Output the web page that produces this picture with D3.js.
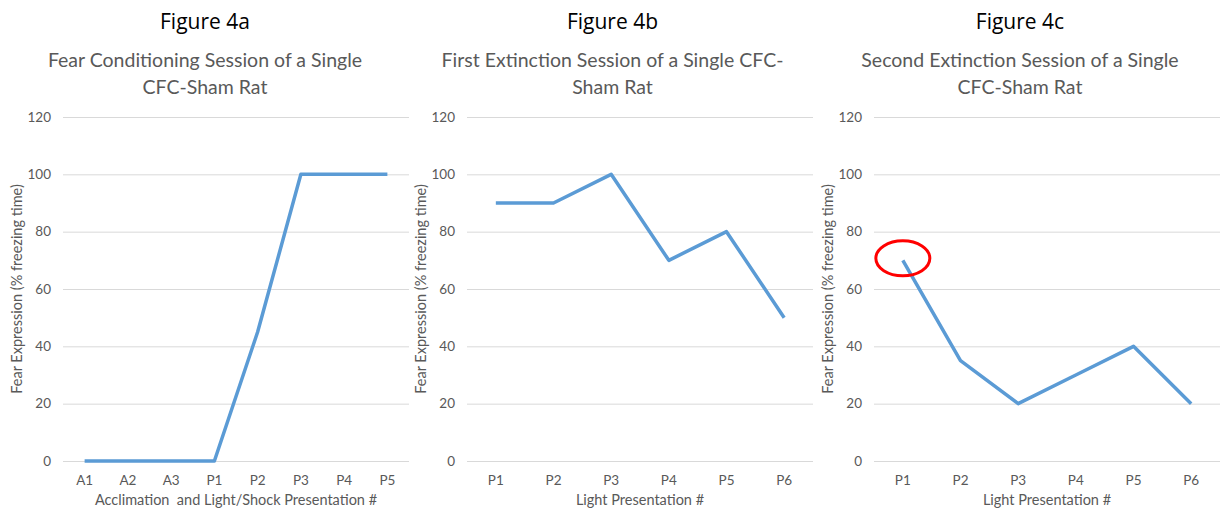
<!DOCTYPE html>
<html>
<head>
<meta charset="utf-8">
<script src="https://cdn.jsdelivr.net/npm/d3@7"></script>
<style>
  body { margin: 0; background: #fff; }
  text { font-family: Lato, "Open Sans", sans-serif; white-space: pre; }
</style>
</head>
<body>
<div id="chart"></div>
<script>
// data
const catsA = ["A1", "A2", "A3", "P1", "P2", "P3", "P4", "P5"];
const valsA = [0, 0, 0, 0, 45, 100, 100, 100];

const catsB = ["P1", "P2", "P3", "P4", "P5", "P6"];
const valsB = [90, 90, 100, 70, 80, 50];

const catsC = ["P1", "P2", "P3", "P4", "P5", "P6"];
const valsC = [70, 35, 20, 30, 40, 20];

const yTicks = [0, 20, 40, 60, 80, 100, 120];

const panels = [
    { fig: "Figure 4a", title: ["Fear Conditioning Session of a Single", "CFC-Sham Rat"],
      xTitle: "Acclimation  and Light/Shock Presentation #", cats: catsA, vals: valsA,
      left: 0, right: 410, plotL: 63, plotR: 409 },
    { fig: "Figure 4b", title: ["First Extinction Session of a Single CFC-", "Sham Rat"],
      xTitle: "Light Presentation #", cats: catsB, vals: valsB,
      left: 410, right: 815, plotL: 467, plotR: 813 },
    { fig: "Figure 4c", title: ["Second Extinction Session of a Single", "CFC-Sham Rat"],
      xTitle: "Light Presentation #", cats: catsC, vals: valsC,
      left: 815, right: 1225, plotL: 874, plotR: 1220, circle: 0 }
];

const width = 1225;
const height = 512;
const plotTop = 117, plotBottom = 461;

const svg = d3.select("#chart").append("svg")
    .attr("width", width)
    .attr("height", height);

const y = d3.scaleLinear().domain([0, 120]).range([plotBottom, plotTop]);

panels.forEach(p => {
    const g = svg.append("g");
    const x = d3.scaleBand().domain(p.cats).range([p.plotL, p.plotR]);
    const mid = (p.left + p.right) / 2;

    g.append("text")
        .attr("x", mid).attr("y", 29)
        .attr("text-anchor", "middle")
        .attr("font-size", 21)
        .attr("fill", "#000")
        .style("font-family", "'Open Sans', sans-serif")
        .text(p.fig);

    g.append("text")
        .attr("text-anchor", "middle")
        .attr("font-size", 19.5)
        .attr("fill", "#595959")
        .selectAll("tspan")
        .data(p.title)
        .enter().append("tspan")
        .attr("x", mid)
        .attr("y", (d, i) => 67 + i * 27)
        .text(d => d);

    // gridlines + y labels
    const yAxis = d3.axisLeft(y).tickValues(yTicks)
        .tickSize(-(p.plotR - p.plotL)).tickPadding(12);
    const ya = g.append("g")
        .attr("transform", `translate(${p.plotL},0)`)
        .call(yAxis);
    ya.select(".domain").remove();
    ya.selectAll(".tick line").attr("stroke", "#d9d9d9").attr("stroke-width", 1);
    ya.selectAll(".tick text").attr("fill", "#595959").attr("font-size", 13.5)
        .style("font-family", "Lato, sans-serif");

    // x labels
    const xAxis = d3.axisBottom(x).tickSize(0).tickPadding(14);
    const xa = g.append("g")
        .attr("transform", `translate(0,${plotBottom})`)
        .call(xAxis);
    xa.select(".domain").remove();
    xa.selectAll(".tick text").attr("fill", "#595959").attr("font-size", 13.5)
        .style("font-family", "Lato, sans-serif");

    g.append("text")
        .attr("x", (p.plotL + p.plotR) / 2).attr("y", 505)
        .attr("text-anchor", "middle")
        .attr("font-size", 14.5)
        .attr("fill", "#595959")
        .text(p.xTitle);

    g.append("text")
        .attr("transform", `translate(${p.plotL - 41},${(plotTop + plotBottom) / 2}) rotate(-90)`)
        .attr("text-anchor", "middle")
        .attr("font-size", 14.5)
        .attr("fill", "#595959")
        .text("Fear Expression (% freezing time)");

    const line = d3.line()
        .x((d, i) => x(p.cats[i]) + x.bandwidth() / 2)
        .y(d => y(d));

    g.append("path")
        .datum(p.vals)
        .attr("fill", "none")
        .attr("stroke", "#5b9bd5")
        .attr("stroke-width", 3.5)
        .attr("stroke-linejoin", "round")
        .attr("d", line);

    if (p.circle !== undefined) {
        const i = p.circle;
        g.append("ellipse")
            .attr("cx", x(p.cats[i]) + x.bandwidth() / 2)
            .attr("cy", y(p.vals[i]) - 2)
            .attr("rx", 27)
            .attr("ry", 17.5)
            .attr("fill", "none")
            .attr("stroke", "#ff0000")
            .attr("stroke-width", 3);
    }
});
</script>
</body>
</html>
